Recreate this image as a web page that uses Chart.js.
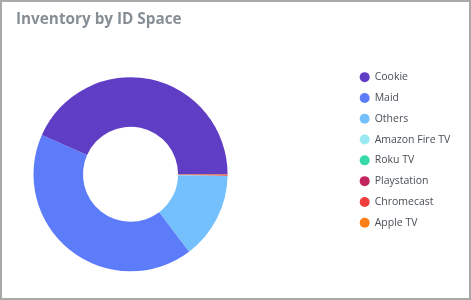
<!DOCTYPE html>
<html>
<head>
<meta charset="utf-8">
<script src="https://cdn.jsdelivr.net/npm/chart.js@4.4.1/dist/chart.umd.min.js"></script>
<style>
  html, body { margin: 0; padding: 0; background: #fff; }
  #frame { position: relative; width: 471px; height: 300px; box-sizing: border-box; border: 2px solid #a9a9a9; background: #fff; }
  #title { position: absolute; left: 14px; top: 5.5px; font-family: "Open Sans", sans-serif; font-weight: 700; font-size: 15.3px; color: #868e96; white-space: nowrap; }
  #wrap { position: absolute; left: 0; top: 0; width: 467px; height: 296px; }
</style>
</head>
<body>
<div id="frame">
  <div id="wrap"><canvas id="c" width="467" height="296"></canvas></div>
  <div id="title">Inventory by ID Space</div>
</div>
<script>
const categories = ["Cookie", "Maid", "Others", "Amazon Fire TV", "Roku TV", "Playstation", "Chromecast", "Apple TV"];
const shares = [43.3, 41.9, 14.4, 0.01, 0.01, 0.03, 0.08, 0.15];
const colors = ["#5f3dc4", "#5c7cfa", "#74c0fc", "#99e9f2", "#38d9a9", "#c2255c", "#f03e3e", "#fd7e14"];

// drawn clockwise from 3 o'clock in reverse order; legend shows original order
const chartLabels = categories.slice().reverse();
const chartValues = shares.slice().reverse();
const chartColors = colors.slice().reverse();

const legendGap = {
  id: 'legendGap',
  beforeInit(chart, args, opts) {
    Chart.layouts.addBox(chart, {
      position: 'right',
      weight: -10,
      fullSize: false,
      options: { stackWeight: 1 },
      isHorizontal() { return false; },
      update(maxW, maxH) { this.width = opts.gap; this.height = maxH; },
      getPadding() { return {left: 0, right: 0, top: 0, bottom: 0}; },
      draw() {}
    });
  }
};

new Chart(document.getElementById('c'), {
  type: 'doughnut',
  data: {
    labels: chartLabels,
    datasets: [{
      data: chartValues,
      backgroundColor: chartColors,
      borderWidth: 0,
      hoverOffset: 0
    }]
  },
  plugins: [legendGap],
  options: {
    responsive: false,
    animation: false,
    rotation: 90,
    cutout: '49%',
    layout: { padding: { left: 31.5, top: 59.6, bottom: 11, right: 14 } },
    plugins: {
      legendGap: { gap: 122.05 },
      tooltip: { enabled: false },
      legend: {
        position: 'right',
        align: 'start',
        reverse: true,
        labels: {
          usePointStyle: true,
          pointStyle: 'circle',
          boxWidth: 9.5,
          boxHeight: 7.07,
          padding: 10.3,
          color: '#495057',
          font: { family: "'Open Sans', sans-serif", size: 10.5 }
        }
      }
    }
  }
});
</script>
</body>
</html>
